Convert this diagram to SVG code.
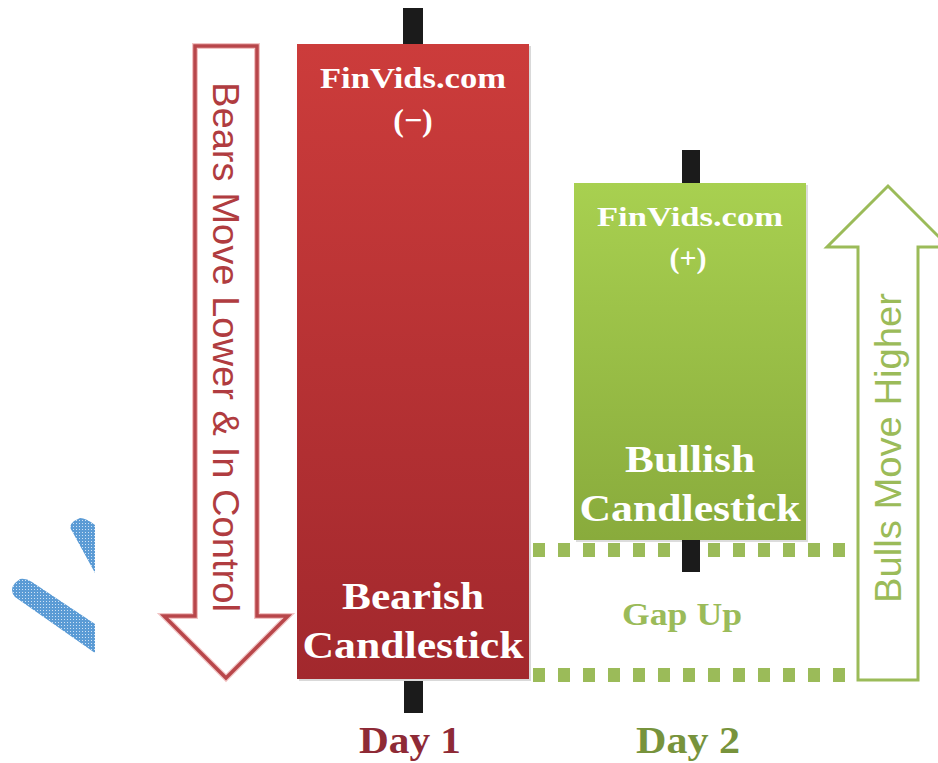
<svg xmlns="http://www.w3.org/2000/svg" width="938" height="763" viewBox="0 0 938 763">
<defs>
<linearGradient id="redG" x1="0" y1="0" x2="0" y2="1"><stop offset="0" stop-color="#cc3c3b"/><stop offset="1" stop-color="#a2282d"/></linearGradient>
<linearGradient id="greenG" x1="0" y1="0" x2="0" y2="1"><stop offset="0" stop-color="#a8d050"/><stop offset="1" stop-color="#89ab3c"/></linearGradient>
<pattern id="hatch" width="3" height="3" patternUnits="userSpaceOnUse"><rect width="3" height="3" fill="#5b9bd5"/><rect x="1" y="1" width="1" height="1" fill="#cfe2f5"/></pattern>
<style>
.wick{fill:#1b1b1b}
.lbl{font-family:"Liberation Serif",serif;font-weight:bold;text-anchor:middle}
.w{fill:#ffffff}
.side{font-family:"Liberation Sans",Arial,sans-serif;text-anchor:middle;font-size:37px}
.dots{fill:none;stroke:#9bbb59;stroke-width:14;stroke-dasharray:12 13}
</style>
</defs>
<rect width="938" height="763" fill="#ffffff"/>
<g id="blue-rays">
<path d="M72,531 Q68,526 74,521 L80,518 Q86,518 95,525 L95,573 Z" fill="url(#hatch)"/>
<path d="M15,597 Q9,590 15,583 L20,579 Q26,578 32,582 L95,624 L95,653 Z" fill="url(#hatch)"/>
</g>
<g id="bears-arrow">
<path d="M195,46 L257,46 L257,616 L288,616 L226,678 L164,616 L195,616 Z" fill="#ffffff" stroke="#f2c4c4" stroke-width="6" stroke-linejoin="miter"/>
<path d="M195,46 L257,46 L257,616 L288,616 L226,678 L164,616 L195,616 Z" fill="none" stroke="#b8464a" stroke-width="3.5"/>
<text class="side" transform="translate(226,347) rotate(90)" y="13" fill="#b03c40" textLength="530" lengthAdjust="spacingAndGlyphs">Bears Move Lower &amp; In Control</text>
</g>
<g id="bulls-arrow">
<path d="M858,680 L918,680 L918,247 L949,247 L888,186 L827,247 L858,247 Z" fill="#ffffff" stroke="#9bbb59" stroke-width="3"/>
<text class="side" transform="translate(888,448) rotate(-90)" y="13" fill="#9bbb59" textLength="310" lengthAdjust="spacingAndGlyphs">Bulls Move Higher</text>
</g>
<g id="day1-bearish">
<rect class="wick" x="403" y="8" width="20" height="38"/>
<rect class="wick" x="404" y="676" width="19" height="37"/>
<rect x="299" y="46" width="232" height="635" fill="#d9d9d9"/>
<rect x="297" y="44" width="232" height="635" fill="url(#redG)"/>
<text class="lbl w" x="413" y="88" font-size="29" textLength="186" lengthAdjust="spacingAndGlyphs">FinVids.com</text>
<text class="lbl w" x="413" y="131" font-size="32">(−)</text>
<text class="lbl w" x="413" y="609" font-size="38" textLength="142" lengthAdjust="spacingAndGlyphs">Bearish</text>
<text class="lbl w" x="413" y="658" font-size="38" textLength="221" lengthAdjust="spacingAndGlyphs">Candlestick</text>
<text class="lbl" x="410" y="753" font-size="38" fill="#8e2a36" textLength="102" lengthAdjust="spacingAndGlyphs">Day 1</text>
</g>
<g id="day2-bullish">
<rect class="wick" x="682" y="150" width="18" height="35"/>
<rect x="576" y="185" width="232" height="357" fill="#dcdcdc"/>
<rect x="574" y="183" width="232" height="357" fill="url(#greenG)"/>
<text class="lbl w" x="690" y="226" font-size="28" textLength="186" lengthAdjust="spacingAndGlyphs">FinVids.com</text>
<text class="lbl w" x="688" y="268" font-size="30">(+)</text>
<text class="lbl w" x="690" y="472" font-size="38" textLength="130" lengthAdjust="spacingAndGlyphs">Bullish</text>
<text class="lbl w" x="690" y="521" font-size="38" textLength="221" lengthAdjust="spacingAndGlyphs">Candlestick</text>
<text class="lbl" x="688" y="753" font-size="38" fill="#77933c" textLength="104" lengthAdjust="spacingAndGlyphs">Day 2</text>
</g>
<g id="connectors">
<line class="dots" x1="533" y1="550" x2="848" y2="550"/>
<line class="dots" x1="533" y1="675" x2="848" y2="675"/>
</g>
<g id="gap-lower-wick">
<rect class="wick" x="682" y="540" width="18" height="32"/>
</g>
<g id="gap-label">
<text class="lbl" x="682" y="625" font-size="32" fill="#9bbb59" textLength="120" lengthAdjust="spacingAndGlyphs">Gap Up</text>
</g>
</svg>
